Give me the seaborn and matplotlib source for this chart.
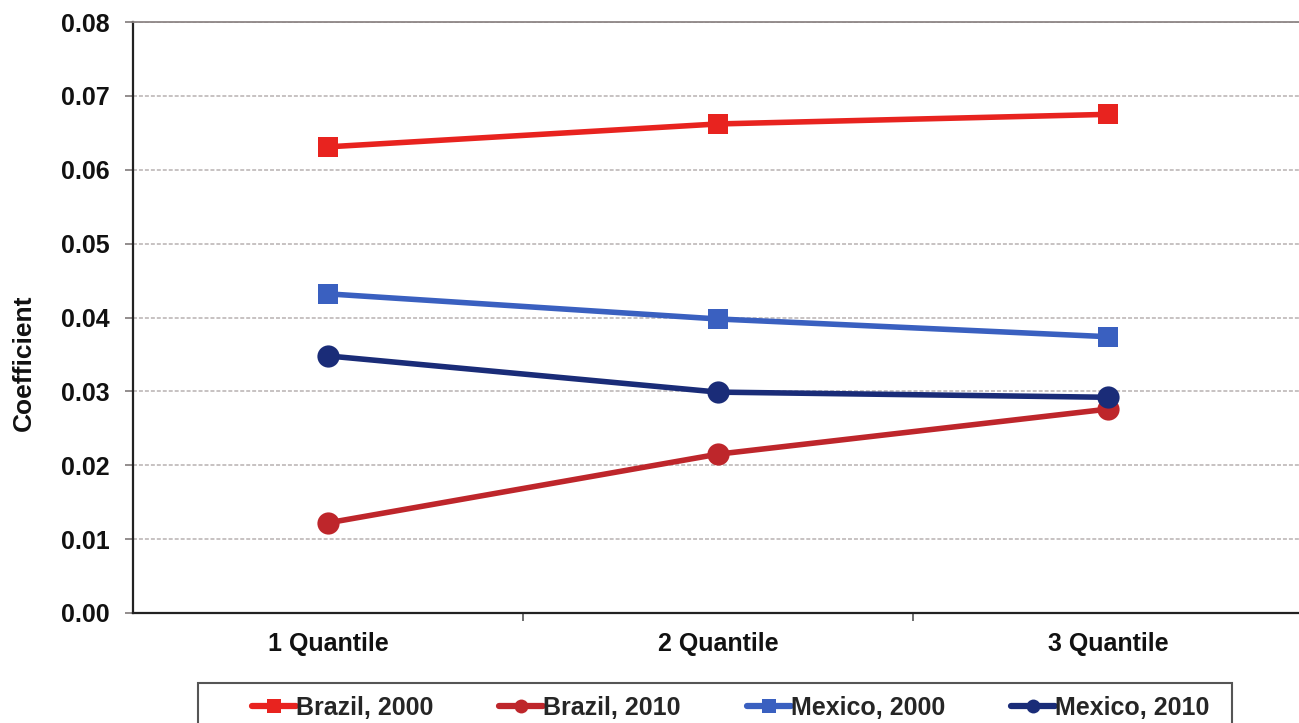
import numpy as np
import pandas as pd
import matplotlib
matplotlib.use('Agg')
import matplotlib.pyplot as plt
import seaborn as sns
from matplotlib.patches import Rectangle

# ---- data ----
quantiles = ['1 Quantile', '2 Quantile', '3 Quantile']
series_names = ['Brazil, 2000', 'Brazil, 2010', 'Mexico, 2000', 'Mexico, 2010']
brazil_2000 = [0.0631, 0.0662, 0.0675]
brazil_2010 = [0.0122, 0.0215, 0.0276]
mexico_2000 = [0.0432, 0.0398, 0.0374]
mexico_2010 = [0.0348, 0.0299, 0.0292]
y_ticks = [0.00, 0.01, 0.02, 0.03, 0.04, 0.05, 0.06, 0.07, 0.08]
y_tick_labels = ['0.00', '0.01', '0.02', '0.03', '0.04', '0.05', '0.06', '0.07', '0.08']

colors = {'Brazil, 2000': '#E8231F', 'Brazil, 2010': '#BE262B',
          'Mexico, 2000': '#3A60C0', 'Mexico, 2010': '#1A2C78'}
markers = {'Brazil, 2000': 's', 'Brazil, 2010': 'o',
           'Mexico, 2000': 's', 'Mexico, 2010': 'o'}

values = [brazil_2000, brazil_2010, mexico_2000, mexico_2010]
rows = []
for name, vals in zip(series_names, values):
    for i, (q, v) in enumerate(zip(quantiles, vals)):
        rows.append({'series': name, 'quantile': q, 'pos': i, 'coef': v})
df = pd.DataFrame(rows)

# ---- style ----
sns.set_theme(style='white')
plt.rcParams['font.family'] = ['Liberation Sans', 'DejaVu Sans']
plt.rcParams['font.weight'] = 'bold'

W, H = 1299, 723
fig = plt.figure(figsize=(W / 100, H / 100), dpi=100)
ax = fig.add_axes([133 / W, 1 - 613 / H, 1170 / W, 591 / H])

sns.lineplot(data=df, x='pos', y='coef', hue='series', style='series',
             hue_order=series_names, style_order=series_names,
             palette=colors, markers=markers, dashes=False,
             linewidth=4, markeredgewidth=0, markersize=15, ax=ax, sort=False)

for line in ax.lines:
    if line.get_marker() == 'o':
        line.set_markersize(16)
    else:
        line.set_markersize(15)

# axes limits / ticks
ax.set_xlim(-0.5, 2.5)
ax.set_ylim(y_ticks[0], y_ticks[-1])
ax.set_yticks(y_ticks)
ax.set_yticklabels(y_tick_labels)
ax.set_xticks([0.5, 1.5])
ax.set_xticklabels([])
ax.set_xticks(range(len(quantiles)), minor=True)
ax.set_xticklabels(quantiles, minor=True)
ax.tick_params(axis='x', which='major', length=6, width=1.2, color='#555555',
               direction='out', bottom=True)
ax.tick_params(axis='x', which='minor', length=0, pad=14, labelsize=18,
               labelcolor='#111111')
ax.tick_params(axis='y', length=6, width=1.3, color='#8a8585', direction='out',
               left=True, pad=10.5, labelsize=18, labelcolor='#111111')
for lbl in ax.get_xticklabels(minor=True) + ax.get_yticklabels():
    lbl.set_fontweight('bold')

ax.set_xlabel('')
ax.set_ylabel('Coefficient', fontsize=19, fontweight='bold', color='#111111')
ax.yaxis.set_label_coords(-0.083, 0.423)

# grid
ax.yaxis.grid(True, color='#b8b2b2', linestyle=(0, (2.6, 1.3)), linewidth=1.1)
ax.xaxis.grid(False)
ax.set_axisbelow(True)

for side in ['left', 'bottom']:
    ax.spines[side].set_color('#222222')
    ax.spines[side].set_linewidth(1.6)
ax.spines['top'].set_color('#8d8686')
ax.spines['top'].set_linewidth(1.3)
ax.spines['right'].set_visible(False)

# legend
handles, labels = ax.get_legend_handles_labels()
if ax.get_legend() is not None:
    ax.get_legend().remove()
for h in handles:
    h.set_linewidth(4.5)
    h.set_markersize(10)
    h.set_markeredgewidth(0)
fig.legend(handles, labels, loc='upper left',
           bbox_to_anchor=(252 / W, 1 - 696 / H), ncol=4, frameon=False,
           handlelength=1.75, handletextpad=0.0,
           columnspacing=2.65, borderpad=0, borderaxespad=0,
           prop={'weight': 'bold', 'size': 18})
fig.add_artist(Rectangle((198 / W, -0.1), (1232 - 198) / W, 1 - 683 / H + 0.1,
                         transform=fig.transFigure, fill=False,
                         edgecolor='#555555', linewidth=1.5))

fig.savefig('out.png', dpi=100, facecolor='white')
